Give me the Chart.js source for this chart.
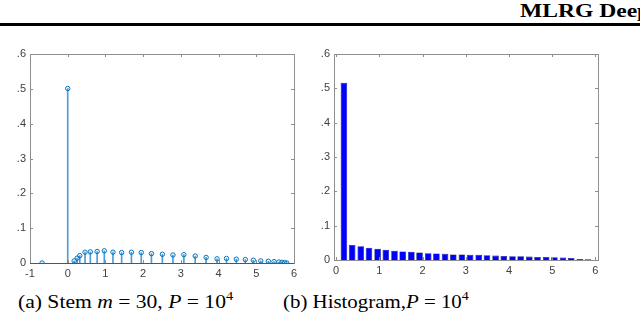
<!DOCTYPE html>
<html>
<head>
<meta charset="utf-8">
<script src="https://cdn.jsdelivr.net/npm/chart.js@4/dist/chart.umd.min.js"></script>
<style>
html,body{margin:0;padding:0;background:#fff;}
body{width:640px;height:323px;position:relative;overflow:hidden;font-family:"Liberation Serif","Times New Roman",serif;color:#000;}
#head{position:absolute;left:520px;top:2px;font-weight:bold;font-size:19px;line-height:18px;white-space:nowrap;transform:scaleX(1.24);transform-origin:0 0;}
#rule{position:absolute;left:0;top:23px;width:640px;height:3px;background:#000;}
#c1{position:absolute;left:0;top:40px;}
#c2{position:absolute;left:300px;top:40px;}
.cap{position:absolute;top:291px;font-size:18px;line-height:22px;white-space:nowrap;transform-origin:0 0;}
.cap sup{font-size:12px;vertical-align:0;position:relative;top:-8px;}
</style>
</head>
<body>
<div id="head">MLRG Deep Learning</div>
<div id="rule"></div>
<canvas id="c1" width="299" height="245"></canvas>
<canvas id="c2" width="305" height="245"></canvas>
<div class="cap" style="left:18px;transform:scaleX(1.2)">(a) Stem <i>m</i> = 30, <i>P</i> = 10<sup>4</sup></div>
<div class="cap" style="left:283px;transform:scaleX(1.16)">(b) Histogram,<i>P</i> = 10<sup>4</sup></div>
<script>
// stem plot (a)
const stemX = [-0.68, 0, 0.17, 0.25, 0.32, 0.46, 0.6, 0.78, 0.97, 1.2, 1.43, 1.69, 1.95, 2.22, 2.51, 2.79,
  3.08, 3.38, 3.67, 3.96, 4.21, 4.47, 4.71, 4.92, 5.12, 5.32, 5.47, 5.6, 5.68, 5.75, 5.81];
const stemY = [0, 0.501, 0.006, 0.014, 0.021, 0.031, 0.032, 0.033, 0.035, 0.031, 0.030, 0.031, 0.030, 0.027, 0.025, 0.023,
  0.024, 0.020, 0.016, 0.012, 0.013, 0.011, 0.010, 0.008, 0.006, 0.005, 0.004, 0.003, 0.002, 0.001, 0];

// histogram (b): bin centres and heights
const histX = [0.18, 0.37, 0.57, 0.76, 0.96, 1.15, 1.35, 1.54, 1.74, 1.93, 2.13, 2.32, 2.52, 2.71, 2.91,
  3.1, 3.3, 3.49, 3.69, 3.88, 4.08, 4.27, 4.47, 4.66, 4.86, 5.05, 5.25, 5.44, 5.64, 5.83];
const histY = [0.516, 0.044, 0.040, 0.036, 0.033, 0.030, 0.027, 0.025, 0.024, 0.022, 0.020, 0.019, 0.018, 0.016, 0.016,
  0.015, 0.015, 0.014, 0.013, 0.012, 0.011, 0.011, 0.010, 0.009, 0.009, 0.008, 0.007, 0.006, 0.003, 0.002];

const yTicks = ['0', '.1', '.2', '.3', '.4', '.5', '.6'];

const pts = (xs, ys) => xs.map((x, i) => ({x: x, y: ys[i]}));
const tickFont = {family: '"Liberation Sans", Arial, sans-serif', size: 11};
const tickColor = '#404040';

// matlab style box with inward ticks
const boxPlugin = {
  id: 'box',
  afterDatasetsDraw(chart, args, opts){
    const {ctx, chartArea: a, scales} = chart;
    ctx.save();
    ctx.lineWidth = 1;
    ctx.strokeStyle = opts.color;
    ctx.strokeRect(Math.round(a.left) + 0.5, Math.round(a.top) + 0.5, Math.round(a.right - a.left), Math.round(a.bottom - a.top));
    ctx.beginPath();
    scales.x.ticks.forEach(t => {
      const px = Math.round(scales.x.getPixelForValue(t.value)) + 0.5;
      ctx.moveTo(px, a.bottom); ctx.lineTo(px, a.bottom - 3);
      ctx.moveTo(px, a.top); ctx.lineTo(px, a.top + 3);
    });
    scales.y.ticks.forEach(t => {
      const py = Math.round(scales.y.getPixelForValue(t.value)) + 0.5;
      ctx.moveTo(a.left, py); ctx.lineTo(a.left + 3, py);
      ctx.moveTo(a.right, py); ctx.lineTo(a.right - 3, py);
    });
    ctx.stroke();
    if(opts.base){
      const py = Math.round(scales.y.getPixelForValue(0)) + 0.5;
      ctx.strokeStyle = opts.base;
      ctx.beginPath(); ctx.moveTo(a.left, py); ctx.lineTo(a.right, py); ctx.stroke();
    }
    ctx.restore();
  }
};

function axes(xmin, xmax, yWidth, xHeight){
  return {
    x: {
      type: 'linear', min: xmin, max: xmax, offset: false,
      grid: {display: false, drawTicks: false, offset: false},
      border: {display: false},
      ticks: {stepSize: 1, includeBounds: false, maxRotation: 0, autoSkip: false, padding: 4, font: tickFont, color: tickColor},
      afterFit: s => { s.height = xHeight; s.paddingLeft = 0; s.paddingRight = 0; }
    },
    y: {
      type: 'linear', min: 0, max: 0.6,
      grid: {display: false, drawTicks: false},
      border: {display: false},
      ticks: {stepSize: 0.1, padding: 4, font: tickFont, color: tickColor,
        callback: (v) => yTicks[Math.round(v * 10)]},
      afterFit: s => { s.width = yWidth; s.paddingTop = 0; s.paddingBottom = 0; }
    }
  };
}

const common = {
  responsive: false,
  animation: false,
  events: [],
  plugins: {legend: {display: false}, tooltip: {enabled: false}}
};

new Chart(document.getElementById('c1'), {
  type: 'scatter',
  data: {
    datasets: [
      {data: pts(stemX, stemY), pointRadius: 2.2, pointBorderWidth: 1,
        borderColor: '#0072bd', backgroundColor: 'rgba(0,0,0,0)', order: 0},
      {type: 'bar', data: pts(stemX, stemY), barThickness: 1,
        backgroundColor: '#4f9bd6', borderWidth: 0, order: 1}
    ]
  },
  options: Object.assign({}, common, {
    layout: {padding: {top: 14, right: 3, left: 0, bottom: 0}},
    scales: axes(-1, 6, 30, 22),
    plugins: Object.assign({}, common.plugins, {box: {color: '#8e8e8e', base: '#555'}})
  }),
  plugins: [boxPlugin]
});

new Chart(document.getElementById('c2'), {
  type: 'bar',
  data: {
    datasets: [
      {data: pts(histX, histY), backgroundColor: '#0000ff', borderColor: '#00005a', borderWidth: 0.6,
        categoryPercentage: 1, barPercentage: 0.8}
    ]
  },
  options: Object.assign({}, common, {
    layout: {padding: {top: 14, right: 7, left: 0, bottom: 0}},
    scales: axes(-0.05, 6.06, 34, 25),
    plugins: Object.assign({}, common.plugins, {box: {color: '#8e8e8e'}})
  }),
  plugins: [boxPlugin]
});
</script>
</body>
</html>
